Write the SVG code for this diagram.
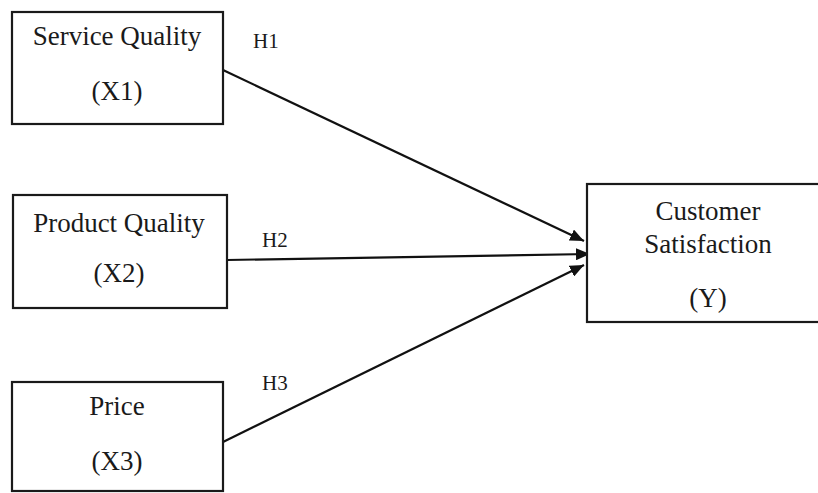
<svg xmlns="http://www.w3.org/2000/svg" width="818" height="493" viewBox="0 0 818 493">
  <style>
    .box { fill: #ffffff; stroke: #1a1a1a; stroke-width: 2.2; }
    .lbl { font-family: "Liberation Serif", "Times New Roman", serif; font-size: 27px; fill: #1a1a1a; text-anchor: middle; }
    .hyp { font-family: "Liberation Serif", "Times New Roman", serif; font-size: 21px; fill: #1a1a1a; }
    .edge { stroke: #111111; stroke-width: 2.2; fill: none; marker-end: url(#arrow); }
  </style>
  <defs>
    <marker id="arrow" viewBox="0 0 14 12" refX="14" refY="6" markerWidth="14" markerHeight="12" markerUnits="userSpaceOnUse" orient="auto">
      <path d="M0,0 L14,6 L0,12 Z" fill="#111111"/>
    </marker>
  </defs>
  <rect width="818" height="493" fill="#ffffff"/>

  <g id="connectors">
    <line class="edge" x1="223" y1="70" x2="584" y2="241"/>
    <line class="edge" x1="227" y1="260" x2="590" y2="254"/>
    <line class="edge" x1="223" y1="442" x2="584" y2="265"/>
    <text class="hyp" x="253" y="48">H1</text>
    <text class="hyp" x="262" y="247">H2</text>
    <text class="hyp" x="262" y="390">H3</text>
  </g>

  <g id="service-quality">
    <rect class="box" x="12" y="12" width="211" height="112"/>
    <text class="lbl" x="117" y="45">Service Quality</text>
    <text class="lbl" x="117" y="100">(X1)</text>
  </g>

  <g id="product-quality">
    <rect class="box" x="13" y="195" width="214" height="113"/>
    <text class="lbl" x="119" y="232">Product Quality</text>
    <text class="lbl" x="119" y="282">(X2)</text>
  </g>

  <g id="price">
    <rect class="box" x="12" y="382" width="211" height="109"/>
    <text class="lbl" x="117" y="415">Price</text>
    <text class="lbl" x="117" y="470">(X3)</text>
  </g>

  <g id="customer-satisfaction">
    <rect class="box" x="587" y="184" width="240" height="138"/>
    <text class="lbl" x="708" y="220">Customer</text>
    <text class="lbl" x="708" y="253">Satisfaction</text>
    <text class="lbl" x="708" y="307">(Y)</text>
  </g>
</svg>
